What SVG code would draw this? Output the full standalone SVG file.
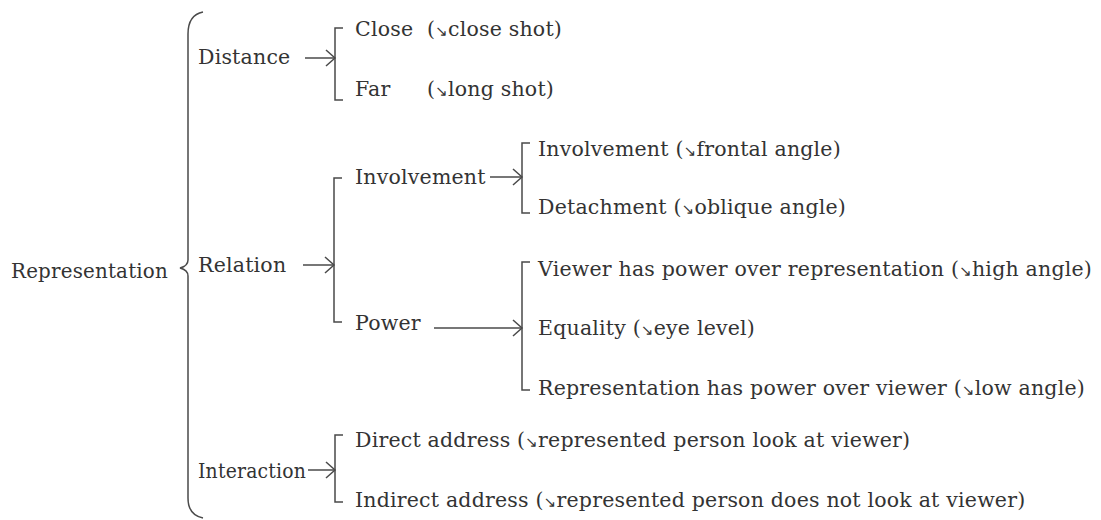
<svg xmlns="http://www.w3.org/2000/svg" width="1101" height="520" viewBox="0 0 1101 520">
<style>
.t{font-family:'DejaVu Serif',serif;font-size:20.5px;fill:#333;letter-spacing:0.2px}
.ar{font-family:'DejaVu Sans',sans-serif;font-size:15px}
.ln{fill:none;stroke:#4a4a4a;stroke-width:1.5}
</style>
<defs>
<marker id="ah" markerWidth="14" markerHeight="20" refX="12" refY="10" orient="auto" markerUnits="userSpaceOnUse">
<polyline points="3,2 12,10 3,18" fill="none" stroke="#4a4a4a" stroke-width="1.5"/>
</marker>
</defs>
<rect width="1101" height="520" fill="#fff"/>
<g id="connectors">
<path class="ln" d="M203,12 Q188,15 188,34 L188,260 Q188,266 180,268 Q188,270 188,276 L188,498 Q188,515 203,518"/>
<line class="ln" x1="305" y1="58" x2="335" y2="58" marker-end="url(#ah)"/>
<path class="ln" d="M343,28 L335,28 L335,100 L343,100"/>
<line class="ln" x1="303" y1="265" x2="334" y2="265" marker-end="url(#ah)"/>
<path class="ln" d="M342,178 L334,178 L334,322 L342,322"/>
<line class="ln" x1="490" y1="177" x2="522" y2="177" marker-end="url(#ah)"/>
<path class="ln" d="M530,143 L522,143 L522,213 L530,213"/>
<line class="ln" x1="434" y1="328" x2="522" y2="328" marker-end="url(#ah)"/>
<path class="ln" d="M530,262 L522,262 L522,390 L530,390"/>
<line class="ln" x1="308" y1="470" x2="335" y2="470" marker-end="url(#ah)"/>
<path class="ln" d="M343,435 L335,435 L335,502 L343,502"/>
</g>
<g id="n-representation"><text class="t" x="11" y="278" textLength="157" lengthAdjust="spacingAndGlyphs">Representation</text></g>
<g id="n-distance"><text class="t" x="198" y="64">Distance</text></g>
<g id="n-close"><text class="t" x="355" y="36">Close<tspan x="427">(</tspan><tspan class="ar">↘</tspan>close shot)</text></g>
<g id="n-far"><text class="t" x="355" y="96">Far<tspan x="427">(</tspan><tspan class="ar">↘</tspan>long shot)</text></g>
<g id="n-relation"><text class="t" x="198" y="272">Relation</text></g>
<g id="n-involvement"><text class="t" x="355" y="184">Involvement</text></g>
<g id="n-frontal"><text class="t" x="538" y="156">Involvement (<tspan class="ar">↘</tspan>frontal angle)</text></g>
<g id="n-detachment"><text class="t" x="538" y="214">Detachment (<tspan class="ar">↘</tspan>oblique angle)</text></g>
<g id="n-power"><text class="t" x="355" y="330">Power</text></g>
<g id="n-viewer"><text class="t" x="538" y="276">Viewer has power over representation (<tspan class="ar">↘</tspan>high angle)</text></g>
<g id="n-equality"><text class="t" x="538" y="335">Equality (<tspan class="ar">↘</tspan>eye level)</text></g>
<g id="n-reppower"><text class="t" x="538" y="395">Representation has power over viewer (<tspan class="ar">↘</tspan>low angle)</text></g>
<g id="n-interaction"><text class="t" x="198" y="478" textLength="108" lengthAdjust="spacingAndGlyphs">Interaction</text></g>
<g id="n-direct"><text class="t" x="355" y="447">Direct address (<tspan class="ar">↘</tspan>represented person look at viewer)</text></g>
<g id="n-indirect"><text class="t" x="355" y="507">Indirect address (<tspan class="ar">↘</tspan>represented person does not look at viewer)</text></g>
</svg>
